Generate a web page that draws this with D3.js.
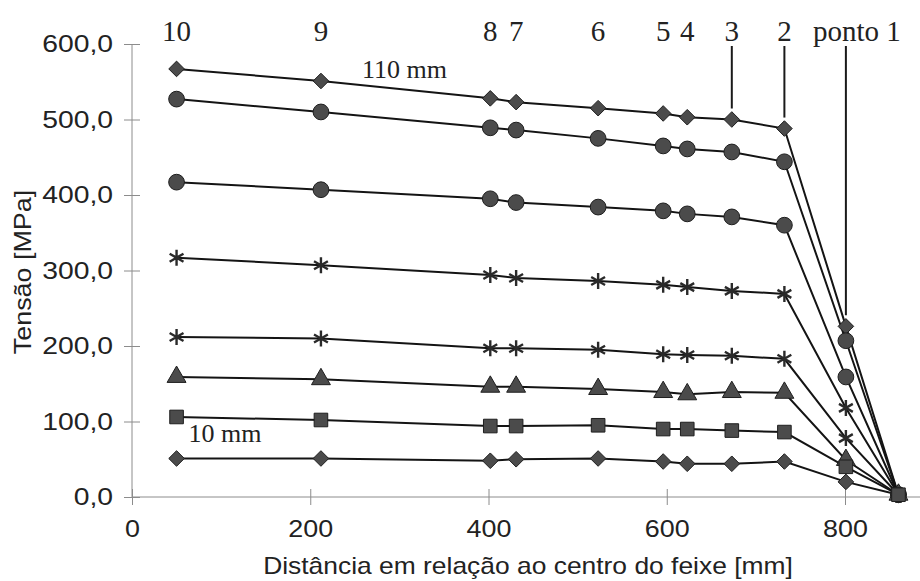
<!DOCTYPE html>
<html>
<head>
<meta charset="utf-8">
<script src="https://cdn.jsdelivr.net/npm/d3@7/dist/d3.min.js"></script>
<style>
  html, body { margin: 0; padding: 0; background: #fff; }
  svg { display: block; }
</style>
</head>
<body>
<svg id="chart" width="920" height="581"></svg>
<script>
// Measuring points along the beam (mm from centre), from point 10 to point 1, then the support end
const distances = [50, 212, 402, 431, 523, 596, 623, 673, 732, 801, 860];
const pointLabels = ["10", "9", "8", "7", "6", "5", "4", "3", "2", "ponto 1"];
const leaderPoints = ["3", "2", "ponto 1"];

// Stress (MPa) for each load stage, top curve (110 mm) down to bottom curve (10 mm)
const stage110 = [567, 551, 528, 523, 515, 508, 503, 500, 488, 226, 3];
const stageB   = [527, 510, 489, 486, 475, 465, 461, 457, 444, 207, 3];
const stageC   = [417, 407, 395, 390, 384, 379, 375, 371, 360, 159, 3];
const stageD   = [317, 307, 294, 290, 286, 281, 278, 273, 269, 118, 3];
const stageE   = [212, 210, 197, 197, 195, 189, 188, 187, 183, 78, 3];
const stageF   = [159, 156, 146, 146, 143, 139, 136, 139, 138, 49, 3];
const stageG   = [106, 102, 94, 94, 95, 90, 90, 88, 86, 40, 3];
const stage10  = [51, 51, 48, 50, 51, 47, 44, 44, 47, 20, 3];

const seriesValues = [stage110, stageB, stageC, stageD, stageE, stageF, stageG, stage10];
const seriesMarkers = ["diamond", "circle", "circle", "asterisk", "asterisk", "triangle", "square", "diamond"];

const xTicks = [0, 200, 400, 600, 800];
const yTicks = [0, 100, 200, 300, 400, 500, 600];

const curveNotes = [
  { text: "110 mm", series: 0, at: 1 },
  { text: "10 mm", series: 6, at: 0 }
];

const svg = d3.select("#chart");
const x = d3.scaleLinear().domain([0, 800]).range([132, 845]);
const y = d3.scaleLinear().domain([0, 600]).range([497, 44]);

const ptBR = d3.formatLocale({ decimal: ",", thousands: ".", grouping: [3], currency: ["R$", ""] });
const fmtY = ptBR.format(".1f");

const axisColor = "#8c8c8c";
const textColor = "#222";
const sans = "'Liberation Sans', Arial, sans-serif";
const serif = "'Liberation Serif', 'Times New Roman', serif";

// Widen sans labels a little so they read like the original wide grotesque
function widen(sel, factor) {
  sel.each(function () {
    const w = this.getComputedTextLength();
    d3.select(this).attr("textLength", w * factor).attr("lengthAdjust", "spacingAndGlyphs");
  });
}

// Y axis with ticks crossing the axis line
const gy = svg.append("g").attr("transform", `translate(${x(0)},0)`)
  .call(d3.axisLeft(y).tickValues(yTicks).tickFormat(fmtY).tickSize(8).tickPadding(11));
gy.select(".domain").attr("stroke", axisColor).attr("d", `M0,${y(600)}V${y(0)}`);
gy.selectAll(".tick line").attr("stroke", axisColor).attr("x1", 8);
gy.selectAll(".tick text").attr("font-family", sans).attr("font-size", 24).attr("fill", textColor)
  .call(widen, 1.18);

// X axis, running to the right edge
const gx = svg.append("g").attr("transform", `translate(0,${y(0)})`)
  .call(d3.axisBottom(x).tickValues(xTicks).tickFormat(d3.format("d")).tickSize(8).tickPadding(15));
gx.select(".domain").attr("stroke", axisColor).attr("d", `M${x(0)},0H920`);
gx.selectAll(".tick line").attr("stroke", axisColor).attr("y1", -8);
gx.selectAll(".tick text").attr("font-family", sans).attr("font-size", 24).attr("fill", textColor)
  .call(widen, 1.12);

// Axis titles
svg.append("text")
  .attr("x", 528).attr("y", 574)
  .attr("text-anchor", "middle")
  .attr("font-family", sans).attr("font-size", 24).attr("fill", textColor)
  .text("Distância em relação ao centro do feixe [mm]")
  .call(widen, 1.1);

svg.append("text")
  .attr("transform", "translate(31,272) rotate(-90)")
  .attr("text-anchor", "middle")
  .attr("font-family", sans).attr("font-size", 24).attr("fill", textColor)
  .text("Tensão [MPa]")
  .call(widen, 1.12);

// Point numbers along the top
svg.append("g").selectAll("text")
  .data(pointLabels)
  .join("text")
  .attr("x", (d, i) => x(distances[i]) + (d.length > 2 ? 11 : 0))
  .attr("y", 41)
  .attr("text-anchor", "middle")
  .attr("font-family", serif).attr("font-size", 29).attr("fill", textColor)
  .text(d => d);

// Leader lines from the labels down to the top curve
svg.append("g").selectAll("line")
  .data(leaderPoints)
  .join("line")
  .attr("x1", d => x(distances[pointLabels.indexOf(d)]))
  .attr("x2", d => x(distances[pointLabels.indexOf(d)]))
  .attr("y1", 46)
  .attr("y2", d => y(stage110[pointLabels.indexOf(d)]) - 11)
  .attr("stroke", "#1a1a1a").attr("stroke-width", 2);

// Lines for every load stage
const line = d3.line().x((d, i) => x(distances[i])).y(d => y(d));
svg.append("g").selectAll("path")
  .data(seriesValues)
  .join("path")
  .attr("d", line)
  .attr("fill", "none")
  .attr("stroke", "#141414")
  .attr("stroke-width", 2);

// Marker shapes
const markerFill = "#4b4b4b";
const markerStroke = "#1e1e1e";
const symbolPath = {
  diamond: d3.symbol().type(d3.symbolDiamond2).size(155)(),
  circle: d3.symbol().type(d3.symbolCircle).size(195)(),
  triangle: d3.symbol().type(d3.symbolTriangle).size(155)(),
  square: d3.symbol().type(d3.symbolSquare).size(185)()
};

function drawMarker(g, kind) {
  if (kind === "asterisk") {
    const r = 8;
    const a = r * Math.cos(Math.PI / 6), b = r * Math.sin(Math.PI / 6);
    g.append("path")
      .attr("d", `M0,${-r}V${r}M${-a},${-b}L${a},${b}M${-a},${b}L${a},${-b}`)
      .attr("stroke", "#2a2a2a").attr("stroke-width", 2.4).attr("fill", "none");
  } else {
    g.append("path")
      .attr("d", symbolPath[kind])
      .attr("fill", markerFill)
      .attr("stroke", markerStroke).attr("stroke-width", 1);
  }
}

// Markers; the square series is drawn last so it sits on top at the shared support point
const drawOrder = [0, 1, 2, 3, 4, 5, 7, 6];
drawOrder.forEach(s => {
  const g = svg.append("g");
  seriesValues[s].forEach((v, i) => {
    const m = g.append("g").attr("transform", `translate(${x(distances[i])},${y(v)})`);
    drawMarker(m, seriesMarkers[s]);
  });
});

// Curve notes
svg.append("text")
  .attr("x", x(distances[curveNotes[0].at]) + 41).attr("y", 78)
  .attr("font-family", serif).attr("font-size", 26).attr("fill", textColor)
  .text(curveNotes[0].text);

svg.append("text")
  .attr("x", x(distances[curveNotes[1].at]) + 12).attr("y", 442)
  .attr("font-family", serif).attr("font-size", 26).attr("fill", textColor)
  .text(curveNotes[1].text);
</script>
</body>
</html>
